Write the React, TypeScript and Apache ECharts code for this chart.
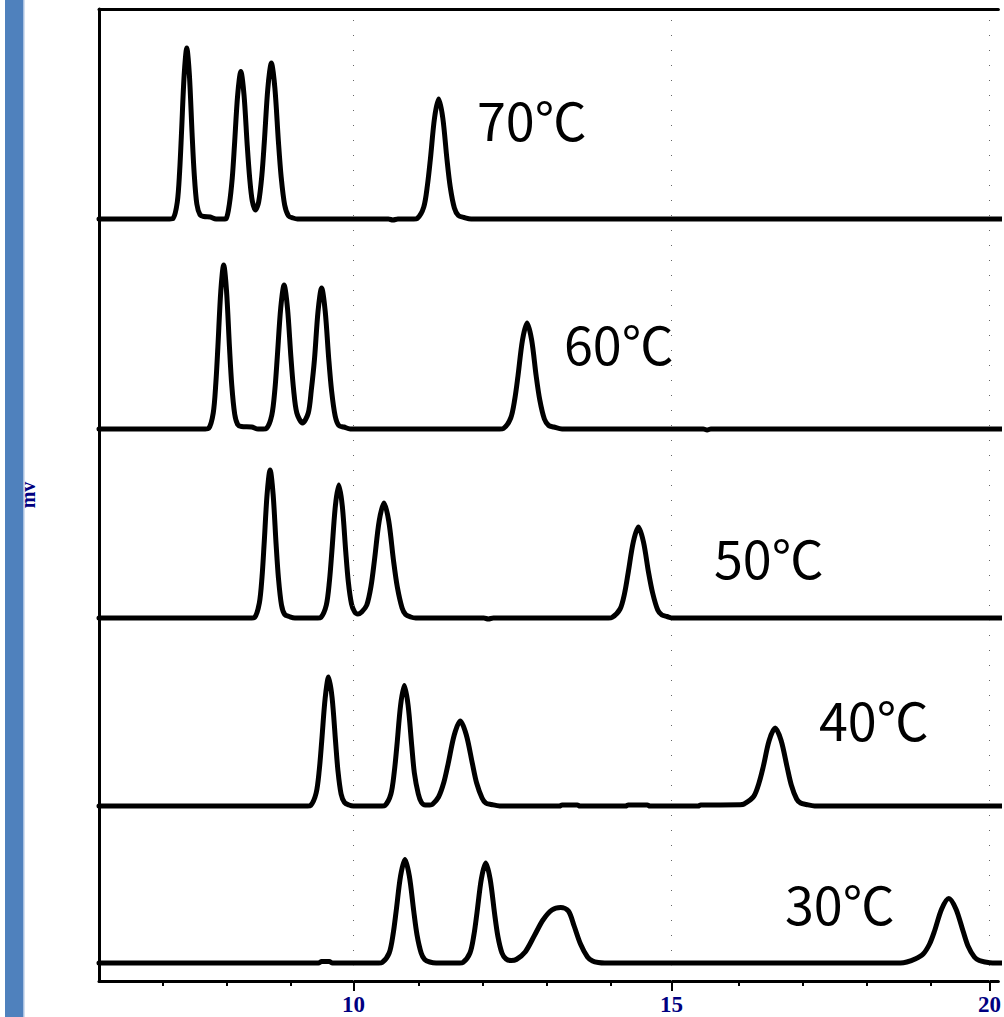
import React, { useEffect, useRef } from "react";
import * as echarts from "echarts";

// ---- axis values ----
const xMin = 6;
const xMax = 20.14;
const yMin = 0;
const yMax = 97.2;
const majorTicks = [10, 15, 20];
const minorTicks = [7, 8, 9, 11, 12, 13, 14, 16, 17, 18, 19];
const yAxisName = "mv";

// ---- traces: [retention time (min), signal above own baseline] ----
const tempLabels = ["70℃", "60℃", "50℃", "40℃", "30℃"];
const baselineOffsets = [76.2, 55.2, 36.3, 17.5, 1.8];

const trace70: number[][] = [
  [6.0, 0], [7.11, 0], [7.164, 0.05], [7.231, 1.7], [7.268, 4.8], [7.297, 8.6], [7.339, 14.4], [7.38, 17.1],
  [7.421, 14.4], [7.463, 8.6], [7.496, 4.6], [7.538, 1.5], [7.59, 0.4], [7.65, 0.25], [7.75, 0.2], [7.84, 0],
  [7.95, 0], [8.0, 0.05], [8.05, 1.5], [8.095, 4.1], [8.13, 7.4], [8.18, 12.4], [8.23, 14.75], [8.28, 12.4],
  [8.33, 7.4], [8.37, 4.0], [8.41, 1.8], [8.46, 0.9], [8.51, 1.7], [8.561, 4.4], [8.6, 7.8], [8.655, 13.1],
  [8.71, 15.6], [8.765, 13.1], [8.82, 7.8], [8.864, 4.2], [8.919, 1.4], [8.98, 0.3], [9.05, 0.1], [9.12, 0],
  [10.55, 0], [10.62, -0.1], [10.7, 0], [10.95, 0], [11.002, 0.05], [11.106, 1.2], [11.164, 3.4], [11.21, 6.0],
  [11.275, 10.1], [11.34, 12.0], [11.405, 10.1], [11.47, 6.0], [11.522, 3.2], [11.587, 1.1], [11.65, 0.35],
  [11.74, 0.15], [11.85, 0], [20.5, 0],
];

const trace60: number[][] = [
  [6.0, 0], [7.67, 0], [7.723, 0.05], [7.796, 1.6], [7.837, 4.6], [7.869, 8.2], [7.915, 13.8], [7.96, 16.4],
  [8.005, 13.8], [8.051, 8.2], [8.087, 4.4], [8.133, 1.5], [8.18, 0.45], [8.24, 0.25], [8.4, 0.2], [8.5, 0],
  [8.58, 0], [8.632, 0.05], [8.717, 1.4], [8.766, 4.0], [8.803, 7.2], [8.857, 12.1], [8.91, 14.4], [8.963, 12.1],
  [9.017, 7.2], [9.06, 3.9], [9.11, 1.6], [9.2, 0.6], [9.29, 1.6], [9.338, 3.9], [9.388, 7.0], [9.444, 11.8],
  [9.5, 14.1], [9.556, 11.8], [9.612, 7.0], [9.657, 3.8], [9.713, 1.3], [9.77, 0.35], [9.85, 0.2], [9.95, 0],
  [12.3, 0], [12.358, 0.05], [12.473, 1.1], [12.537, 3.0], [12.587, 5.3], [12.658, 8.9], [12.73, 10.6],
  [12.802, 8.9], [12.873, 5.3], [12.93, 2.9], [13.002, 1.0], [13.07, 0.35], [13.15, 0.2], [13.28, 0],
  [15.5, 0], [15.56, -0.1], [15.62, 0], [20.5, 0],
];

const trace50: number[][] = [
  [6.0, 0], [8.4, 0], [8.446, 0.05], [8.521, 1.5], [8.563, 4.1], [8.596, 7.4], [8.643, 12.4], [8.69, 14.8],
  [8.737, 12.4], [8.784, 7.4], [8.821, 4.0], [8.869, 1.3], [8.92, 0.35], [8.99, 0.15], [9.08, 0], [9.44, 0],
  [9.487, 0.05], [9.574, 1.3], [9.623, 3.7], [9.661, 6.65], [9.716, 11.2], [9.77, 13.3], [9.825, 11.2],
  [9.879, 6.65], [9.92, 3.6], [9.97, 1.4], [10.02, 0.6], [10.07, 0.4], [10.13, 0.6], [10.21, 1.3], [10.277, 3.2],
  [10.33, 5.75], [10.405, 9.7], [10.48, 11.5], [10.555, 9.7], [10.63, 5.75], [10.69, 3.1], [10.765, 1.0],
  [10.82, 0.35], [10.9, 0.1], [10.98, 0], [12.05, 0], [12.12, -0.1], [12.2, 0], [14.01, 0], [14.064, 0.05],
  [14.192, 0.9], [14.264, 2.5], [14.32, 4.55], [14.4, 7.6], [14.48, 9.1], [14.56, 7.6], [14.64, 4.55],
  [14.704, 2.5], [14.784, 0.8], [14.85, 0.3], [14.93, 0.15], [15.02, 0], [20.5, 0],
];

const trace40: number[][] = [
  [6.0, 0], [9.28, 0], [9.327, 0.05], [9.414, 1.3], [9.463, 3.6], [9.501, 6.45], [9.556, 10.8], [9.61, 12.9],
  [9.665, 10.8], [9.719, 6.45], [9.757, 3.5], [9.806, 1.2], [9.86, 0.35], [9.93, 0.1], [10.0, 0], [10.45, 0],
  [10.496, 0.05], [10.589, 1.2], [10.642, 3.4], [10.683, 6.0], [10.742, 10.1], [10.8, 12.05], [10.859, 10.1],
  [10.917, 6.0], [10.958, 3.3], [11.02, 1.2], [11.07, 0.35], [11.13, 0.1], [11.2, 0.1], [11.24, 0.15],
  [11.338, 0.9], [11.423, 2.4], [11.49, 4.25], [11.585, 7.1], [11.68, 8.5], [11.775, 7.1], [11.87, 4.25],
  [11.937, 2.3], [12.022, 0.8], [12.08, 0.3], [12.17, 0.15], [12.3, 0], [13.24, 0], [13.28, 0.1],
  [13.52, 0.1], [13.56, 0], [14.28, 0], [14.32, 0.1], [14.62, 0.1], [14.66, 0], [15.42, 0], [15.46, 0.1],
  [16.08, 0.12], [16.141, 0.2], [16.292, 0.95], [16.376, 2.3], [16.442, 3.9], [16.536, 6.55], [16.63, 7.8],
  [16.724, 6.55], [16.818, 3.9], [16.884, 2.1], [16.968, 0.7], [17.03, 0.3], [17.12, 0.15], [17.25, 0],
  [20.5, 0],
];

const trace30: number[][] = [
  [6.0, 0], [9.45, 0], [9.5, 0.15], [9.62, 0.15], [9.67, 0], [10.4, 0], [10.451, 0.05], [10.562, 1.0],
  [10.624, 2.9], [10.672, 5.2], [10.741, 8.7], [10.81, 10.35], [10.879, 8.7], [10.948, 5.2], [11.0, 2.8],
  [11.065, 1.0], [11.12, 0.35], [11.2, 0.1], [11.3, 0], [11.67, 0], [11.721, 0.05], [11.832, 1.0],
  [11.894, 2.8], [11.942, 5.0], [12.011, 8.4], [12.08, 10.0], [12.149, 8.4], [12.218, 5.0], [12.27, 2.7],
  [12.335, 1.0], [12.4, 0.4], [12.48, 0.25], [12.56, 0.35], [12.7, 1.1], [12.85, 2.8], [12.98, 4.3],
  [13.12, 5.3], [13.26, 5.55], [13.38, 5.2], [13.47, 3.7], [13.57, 1.9], [13.68, 0.6], [13.76, 0.2],
  [13.85, 0.05], [13.95, 0], [18.6, 0], [18.7, 0.1], [18.83, 0.4], [18.957, 0.9], [19.058, 1.9],
  [19.136, 3.2], [19.248, 5.4], [19.36, 6.45], [19.472, 5.4], [19.584, 3.2], [19.662, 1.7], [19.762, 0.6],
  [19.84, 0.25], [19.93, 0.1], [20.05, 0], [20.5, 0],
];

const traces = [trace70, trace60, trace50, trace40, trace30];

export default function App() {
  const ref = useRef<HTMLDivElement>(null);

  useEffect(() => {
    if (!ref.current) return;
    const chart = echarts.init(ref.current, null, { renderer: "svg" });

    // layout (pixels) for the temperature annotations
    const labelLayout = [
      [477, 118],
      [564, 342],
      [714, 556],
      [819, 718],
      [785, 902],
    ];

    const gridBox = { left: 99, right: 0, top: 9, bottom: 36 };
    const labelFont = {
      color: "#000080",
      fontFamily: "Liberation Serif",
      fontWeight: "bold" as const,
    };

    const traceSeries = traces.map((tr, i) => ({
      type: "line" as const,
      name: tempLabels[i],
      xAxisIndex: 0,
      yAxisIndex: 0,
      data: tr.map(([t, v]) => [t, v + baselineOffsets[i]]),
      symbol: "none",
      showSymbol: false,
      smooth: 0.3,
      lineStyle: { color: "#000", width: 5, join: "round", cap: "round" },
      z: 3,
      silent: true,
    }));

    const option: any = {
      animation: false,
      backgroundColor: "#fff",
      grid: [
        { ...gridBox },
        { ...gridBox },
      ],
      xAxis: [
        {
          type: "value",
          gridIndex: 0,
          position: "bottom",
          min: xMin,
          max: xMax,
          axisLine: { show: true, onZero: false, lineStyle: { color: "#000", width: 3 } },
          axisTick: {
            show: true,
            customValues: majorTicks,
            length: 10,
            lineStyle: { color: "#000", width: 2 },
          },
          axisLabel: {
            show: true,
            customValues: majorTicks,
            margin: 12,
            fontSize: 23,
            ...labelFont,
          },
          splitLine: { show: false },
        },
        {
          type: "value",
          gridIndex: 0,
          position: "top",
          min: xMin,
          max: xMax,
          axisLine: { show: true, onZero: false, lineStyle: { color: "#000", width: 3 } },
          axisTick: { show: false },
          axisLabel: { show: false },
          splitLine: { show: false },
        },
        {
          type: "value",
          gridIndex: 1,
          position: "bottom",
          min: xMin,
          max: xMax,
          axisLine: { show: false, onZero: false },
          axisTick: {
            show: true,
            customValues: minorTicks,
            length: 5,
            lineStyle: { color: "#000", width: 2 },
          },
          axisLabel: { show: false },
          splitLine: { show: false },
        },
      ],
      yAxis: [
        {
          type: "value",
          gridIndex: 0,
          min: yMin,
          max: yMax,
          name: yAxisName,
          nameLocation: "middle",
          nameGap: 61,
          nameTextStyle: { fontSize: 20, ...labelFont },
          axisLine: { show: true, onZero: false, lineStyle: { color: "#000", width: 3 } },
          axisTick: { show: false },
          axisLabel: { show: false },
          splitLine: { show: false },
        },
        {
          type: "value",
          gridIndex: 1,
          min: yMin,
          max: yMax,
          show: false,
        },
      ],
      series: [
        {
          type: "line",
          xAxisIndex: 0,
          yAxisIndex: 0,
          data: [],
          z: 1,
          silent: true,
          markLine: {
            silent: true,
            symbol: ["none", "none"],
            label: { show: false },
            lineStyle: { color: "#666", width: 1, type: [1, 14] },
            data: majorTicks.map((v) => ({ xAxis: v })),
          },
        },
        ...traceSeries,
      ],
      graphic: [
        {
          type: "rect",
          left: 5,
          top: 0,
          shape: { width: 18, height: 1017 },
          style: { fill: "#4f81bd" },
          silent: true,
        },
        {
          type: "rect",
          left: 23,
          top: 0,
          shape: { width: 1.5, height: 1017 },
          style: { fill: "#a8c0e0" },
          silent: true,
        },
        ...tempLabels.map((txt, i) => ({
          type: "text",
          x: labelLayout[i][0],
          y: labelLayout[i][1],
          silent: true,
          z: 10,
          style: {
            text: txt,
            fill: "#000",
            fontSize: 52,
            fontFamily: "Noto Sans CJK SC",
            verticalAlign: "middle",
            align: "left",
          },
        })),
      ],
    };

    chart.setOption(option);
    return () => chart.dispose();
  }, []);

  return (
    <div
      ref={ref}
      style={{ position: "fixed", left: 0, top: 0, width: 1004, height: 1017, background: "#fff" }}
    />
  );
}
